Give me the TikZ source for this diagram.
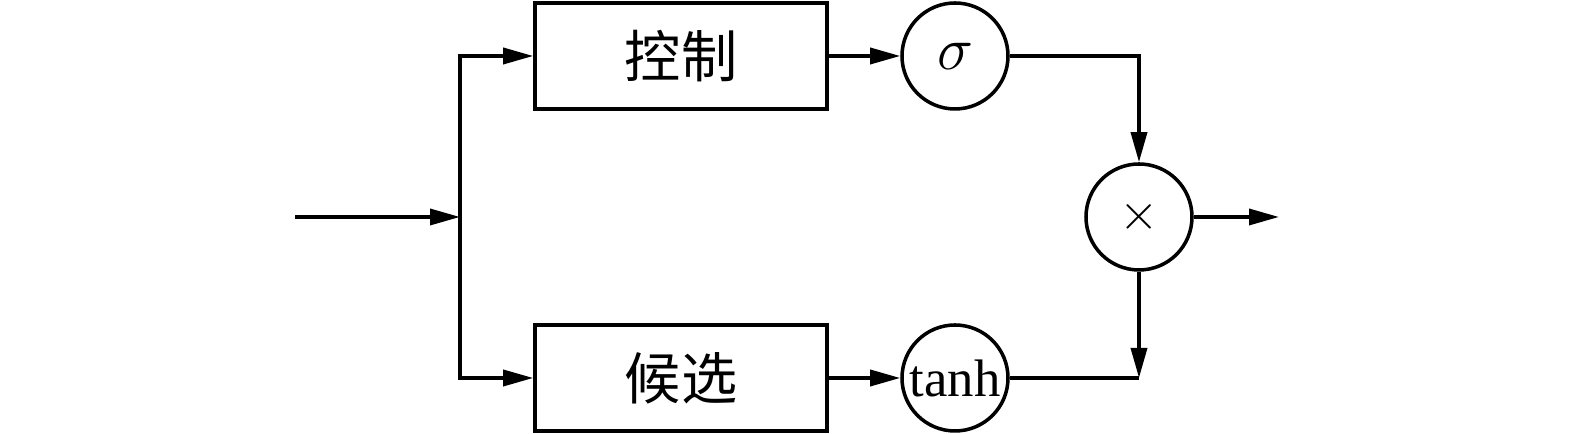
\documentclass[tikz,border=0pt]{standalone}
\usepackage{fontspec}
\setmainfont{Liberation Serif}
\newfontfamily\cjk{Noto Sans CJK SC}
\usepackage{tikz}
\usetikzlibrary{positioning}
\usetikzlibrary{arrows.meta}

\begin{document}
\begin{tikzpicture}[line width=1pt, >={Triangle[length=3mm,width=1.6mm]},
  gatebox/.style={draw, minimum width=2.92cm, minimum height=1.06cm, font=\cjk\fontsize{16}{16}\selectfont},
  fcircle/.style={draw, circle, minimum size=1.06cm, inner sep=0pt, font=\fontsize{15}{15}\selectfont}]
\useasboundingbox (0,0) rectangle (15.75,4.34);
\coordinate (in) at (2.95,2.17);
\coordinate (split) at (4.60,2.17);
\node[gatebox] (ctrl) at (6.81,3.78) {控制};
\node[gatebox] (cand) at (6.81,0.56) {候选};
\node[fcircle, font=\fontsize{18}{18}\selectfont] (sig) at (9.55,3.78) {$\sigma$};
\node[fcircle] (tanh) at (9.55,0.56) {tanh};
\node[fcircle] (mul) at (11.39,2.17) {$\times$};
\coordinate (out) at (12.79,2.17);
%input and the split
\draw[->] (in) -- (split);
\draw[->] (split) |- (ctrl);
\draw[->] (split) |- (cand);
\draw[->] (ctrl) -- (sig);
\draw[->] (cand) -- (tanh);
%into the product
\draw[->] (sig) -| (mul);
\draw (tanh) -- (tanh -| mul);
\draw[->] (mul) -- (tanh -| mul);
\draw[->] (mul) -- (out);
\end{tikzpicture}
\end{document}
